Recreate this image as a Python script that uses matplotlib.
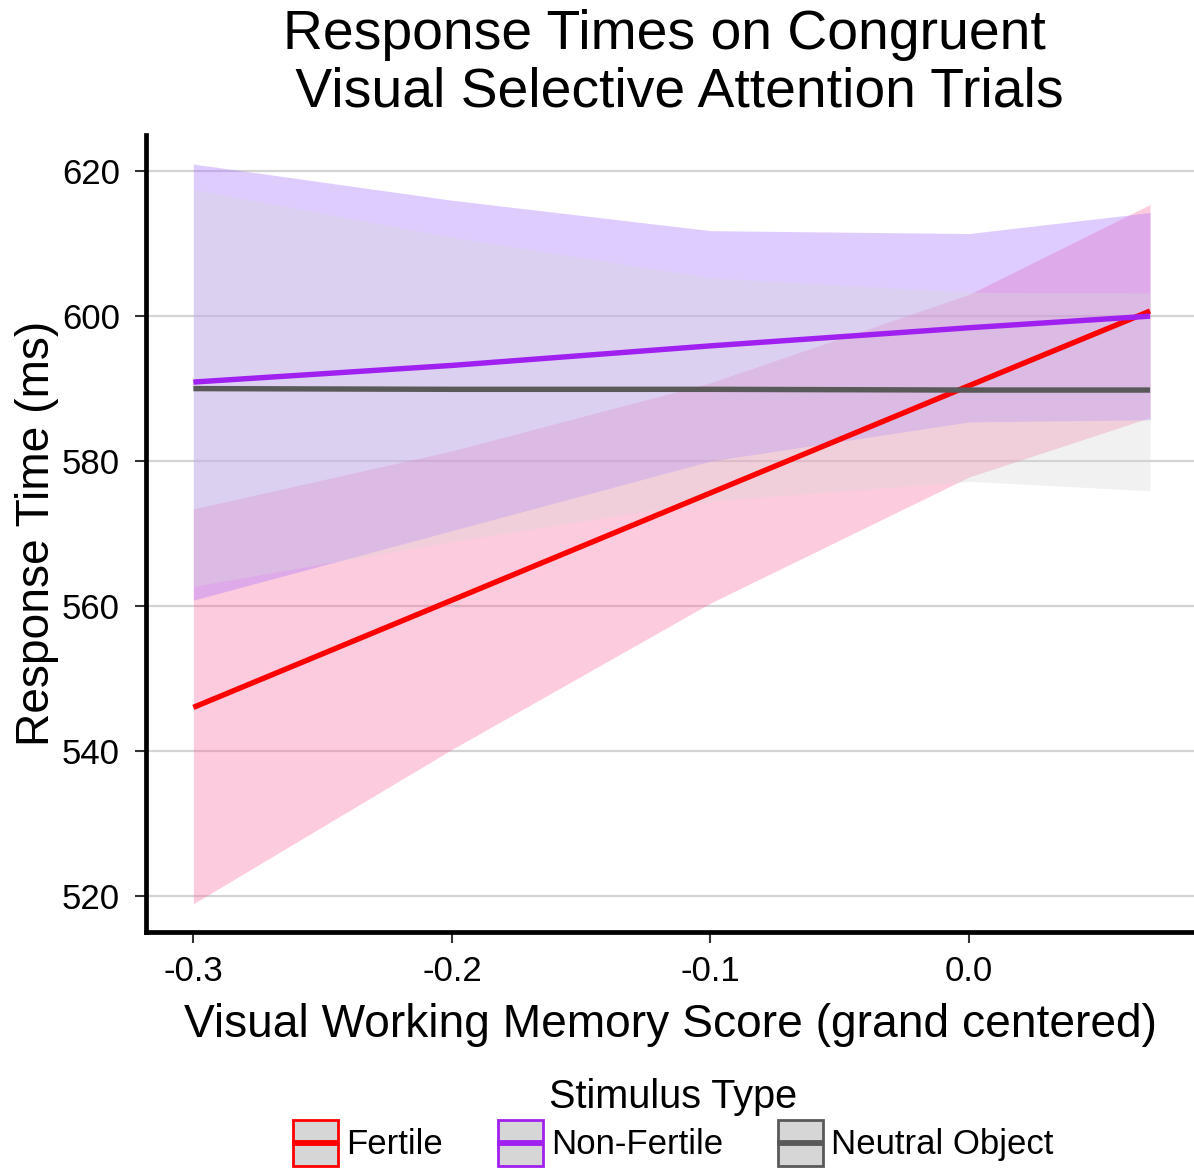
import matplotlib
matplotlib.use('Agg')
import matplotlib.pyplot as plt
from matplotlib.legend_handler import HandlerBase
from matplotlib.lines import Line2D
from matplotlib.patches import Rectangle

plt.rcParams['font.family'] = ['Liberation Sans', 'DejaVu Sans']

# Visual working memory score (grand centered) where the model was evaluated
vwm = [-0.3, -0.2, -0.1, 0.0, 0.07]

# Stimulus types and their colours
stimuli = ['Fertile', 'Non-Fertile', 'Neutral Object']
line_colors = ['#FF0000', '#A020F0', '#595959']
fill_colors = ['#FC6AA1', '#A66DFF', '#D8D8D8']

# Fitted response times (ms) and confidence bands
fertile_fit = [546.0, 560.8, 575.6, 590.4, 600.7]
fertile_lower = [518.9, 540.2, 560.4, 577.8, 586.0]
fertile_upper = [573.4, 581.4, 590.8, 603.0, 615.4]

nonfertile_fit = [590.9, 593.2, 595.9, 598.4, 600.0]
nonfertile_lower = [560.8, 570.4, 580.0, 585.4, 585.7]
nonfertile_upper = [621.0, 616.0, 611.8, 611.4, 614.3]

neutral_fit = [590.0, 589.9, 589.9, 589.8, 589.8]
neutral_lower = [562.7, 568.9, 574.5, 577.2, 575.9]
neutral_upper = [617.5, 610.9, 605.3, 603.3, 603.2]

x_ticks = [-0.3, -0.2, -0.1, 0.0]
x_tick_labels = ['-0.3', '-0.2', '-0.1', '0.0']
y_ticks = [520, 540, 560, 580, 600, 620]


class KeyHandler(HandlerBase):
    # grey box with coloured border and a line through the middle
    def create_artists(self, legend, orig_handle, xdescent, ydescent,
                       width, height, fontsize, trans):
        color = orig_handle.get_color()
        box = Rectangle((-xdescent, -ydescent), width, height,
                        facecolor='#D6D6D6', edgecolor=color, linewidth=2,
                        transform=trans)
        ymid = -ydescent + height / 2
        line = Line2D([-xdescent + 1.5, -xdescent + width - 1.5], [ymid, ymid],
                      color=color, linewidth=4.2, transform=trans)
        return [box, line]


def main():
    fig = plt.figure(figsize=(11.94, 11.71), dpi=100)
    ax = fig.add_axes([0.1223, 0.2041, 0.8777, 0.6806])

    fits = [fertile_fit, nonfertile_fit, neutral_fit]
    lowers = [fertile_lower, nonfertile_lower, neutral_lower]
    uppers = [fertile_upper, nonfertile_upper, neutral_upper]

    # Confidence ribbons first
    for i in range(len(stimuli)):
        ax.fill_between(vwm, lowers[i], uppers[i], color=fill_colors[i],
                        alpha=0.35, linewidth=0)

    # Then the fitted lines
    lns = []
    for i in range(len(stimuli)):
        lns += ax.plot(vwm, fits[i], color=line_colors[i], linewidth=3.9,
                       label=stimuli[i], solid_capstyle='butt')

    # Axis ranges
    ax.set_xlim(-0.3183, 0.087)
    ax.set_ylim(515, 625)
    ax.set_xticks(x_ticks)
    ax.set_xticklabels(x_tick_labels)
    ax.set_yticks(y_ticks)

    # Classic look: only left and bottom spines, horizontal grid
    for side in ['top', 'right']:
        ax.spines[side].set_visible(False)
    for side in ['left', 'bottom']:
        ax.spines[side].set_linewidth(3.4)
        ax.spines[side].set_color('black')
    ax.tick_params(axis='both', length=8, width=1.5, color='#333333',
                   labelsize=25, labelcolor='black')
    ax.tick_params(axis='x', pad=8.6)
    ax.tick_params(axis='y', pad=10.8)
    ax.set_axisbelow(True)
    ax.grid(axis='y', color='#D3D3D3', linewidth=1.6)

    # Labels and title
    ax.set_xlabel('Visual Working Memory Score (grand centered)',
                  fontsize=33.2, labelpad=11)
    ax.set_ylabel('Response Time (ms)', fontsize=33.2, labelpad=2)
    fig.text(0.563, 0.992,
             'Response Times on Congruent \n Visual Selective Attention Trials',
             ha='center', va='top', fontsize=39.8, linespacing=1.12)

    # Legend
    labs = [ln.get_label() for ln in lns]
    fig.legend(lns, labs, loc='upper center', bbox_to_anchor=(0.5638, 0.0943),
               ncol=3, frameon=False, fontsize=25, title='Stimulus Type',
               title_fontsize=28.5, handlelength=1.30, handleheight=1.64,
               handletextpad=0.23, columnspacing=1.59, borderpad=0,
               labelspacing=0.12, handler_map={Line2D: KeyHandler()})

    fig.savefig('out.png', dpi=100)
    return


if __name__ == '__main__':
    main()
